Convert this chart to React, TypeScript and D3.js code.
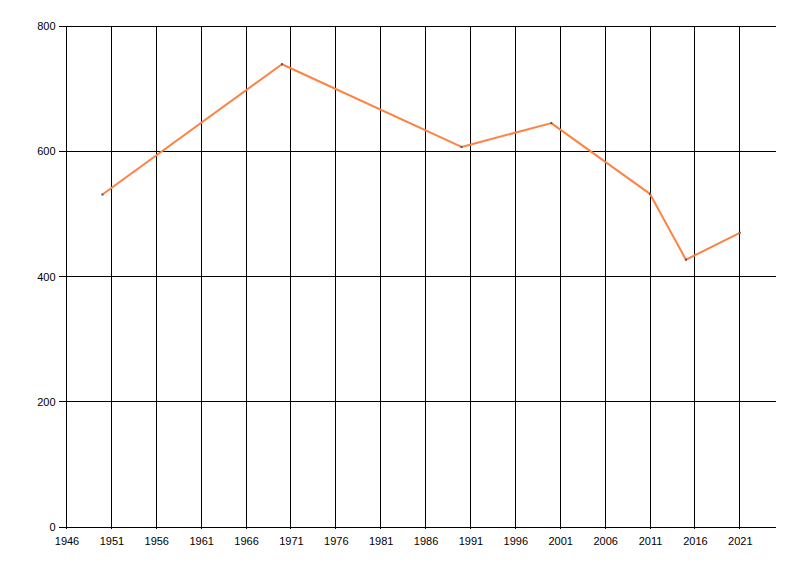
import { useEffect, useRef } from 'react';
import * as d3 from 'd3';

// Series values
const years = [1950, 1970, 1990, 2000, 2011, 2015, 2021];
const values = [531, 739, 607, 645, 532, 427, 470];

// Axis ticks
const xTicks = [1946, 1951, 1956, 1961, 1966, 1971, 1976, 1981, 1986, 1991, 1996, 2001, 2006, 2011, 2016, 2021];
const yTicks = [0, 200, 400, 600, 800];

export default function App() {
  const svgRef = useRef<SVGSVGElement>(null);

  useEffect(() => {
    if (!svgRef.current) return;
    const width = 800;
    const height = 576;
    const margin = { top: 26, right: 24.3, bottom: 48.7, left: 66.5 };
    const innerWidth = width - margin.left - margin.right;
    const innerHeight = height - margin.top - margin.bottom;

    d3.select(svgRef.current).selectAll('*').remove();
    const svg = d3.select(svgRef.current).attr('width', width).attr('height', height);
    const g = svg.append('g').attr('transform', `translate(${margin.left},${margin.top})`);

    const x = d3.scaleLinear().domain([1946, 2025]).range([0, innerWidth]);
    const y = d3.scaleLinear().domain([0, 800]).range([innerHeight, 0]);

    const font = '"Liberation Sans", Arial, sans-serif';

    // Vertical gridlines
    g.append('g')
      .attr('shape-rendering', 'crispEdges')
      .selectAll('line')
      .data(xTicks)
      .join('line')
      .attr('x1', (d) => x(d))
      .attr('x2', (d) => x(d))
      .attr('y1', 0)
      .attr('y2', innerHeight + 2)
      .attr('stroke', '#000')
      .attr('stroke-width', 1);

    // Horizontal gridlines (incl. baseline)
    g.append('g')
      .attr('shape-rendering', 'crispEdges')
      .selectAll('line')
      .data(yTicks)
      .join('line')
      .attr('x1', -8)
      .attr('x2', innerWidth)
      .attr('y1', (d) => y(d))
      .attr('y2', (d) => y(d))
      .attr('stroke', '#000')
      .attr('stroke-width', 1);

    // Y labels
    g.append('g')
      .selectAll('text')
      .data(yTicks)
      .join('text')
      .attr('x', -11)
      .attr('y', (d) => y(d) + 4)
      .attr('text-anchor', 'end')
      .style('font-family', font)
      .style('font-size', '11px')
      .attr('fill', '#000')
      .text((d) => String(d));

    // X labels
    g.append('g')
      .selectAll('text')
      .data(xTicks)
      .join('text')
      .attr('x', (d) => x(d) + 0.5)
      .attr('y', innerHeight + 18)
      .attr('text-anchor', 'middle')
      .style('font-family', font)
      .style('font-size', '11px')
      .attr('fill', '#000')
      .text((d) => String(d));

    const pts = years.map((yr, i) => [yr, values[i]] as [number, number]);

    // Line
    const line = d3
      .line<[number, number]>()
      .x((d) => x(d[0]))
      .y((d) => y(d[1]));

    g.append('path')
      .datum(pts)
      .attr('d', line)
      .attr('fill', 'none')
      .attr('stroke', '#ff8242')
      .attr('stroke-width', 2)
      .attr('stroke-linejoin', 'round');

    // Tiny point markers
    g.append('g')
      .selectAll('rect')
      .data(pts)
      .join('rect')
      .attr('x', (d) => x(d[0]) - 1)
      .attr('y', (d) => y(d[1]) - 1)
      .attr('width', 2)
      .attr('height', 2)
      .attr('fill', '#555');
  }, []);

  return <svg ref={svgRef} style={{ position: 'absolute', left: 0, top: 0, background: '#fff' }}></svg>;
}
